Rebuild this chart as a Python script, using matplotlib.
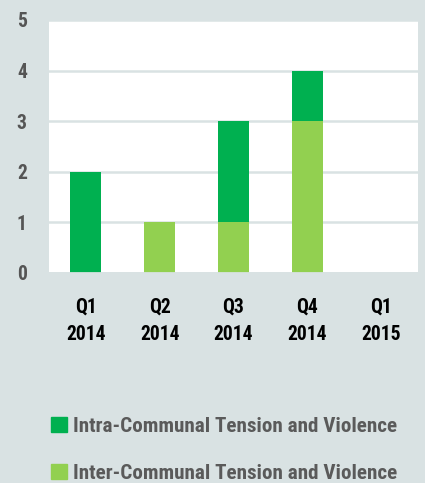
import numpy as np
import matplotlib
matplotlib.use("Agg")
import matplotlib.pyplot as plt
from matplotlib.patches import Patch
from matplotlib import font_manager
from matplotlib.textpath import TextPath

# Data
quarters = ["Q1\n2014", "Q2\n2014", "Q3\n2014", "Q4\n2014", "Q1\n2015"]
inter_communal = [0, 1, 1, 3, 0]
intra_communal = [2, 0, 2, 1, 0]
series_names = ["Intra-Communal Tension and Violence", "Inter-Communal Tension and Violence"]

# Colours
bg = "#d9e2e3"
dark_green = "#00b050"
light_green = "#92d050"

# Pick a condensed bold font, best matches first
def find_font():
    files = [f.fname for f in font_manager.fontManager.ttflist]
    prefs = [("opensans", "condensed"), ("roboto", "condensed"), ("liberationsansnarrow", ""),
             ("notosans", "condensed"), ("", "semicondensed"), ("", "condensed"), ("", "narrow")]
    for a, b in prefs:
        for fn in files:
            low = fn.lower().replace(" ", "").replace("-", "").replace("_", "")
            if a in low and b in low and "bold" in low and "italic" not in low \
                    and "extra" not in low and "semi" + "bold" not in low:
                return fn
    return None

narrow = find_font()
font_kw = {"fname": narrow} if narrow else {"family": "DejaVu Sans", "weight": "bold"}

def fp(size):
    return font_manager.FontProperties(size=size, **font_kw)

fig = plt.figure(figsize=(4.25, 4.83), dpi=100, facecolor=bg)

def pick_size(text, cap_px, max_w_px):
    # font size giving the wanted cap height, but no wider than max_w_px
    ext_h = TextPath((0, 0), "H", prop=fp(10)).get_extents().height * 100 / 72
    ext_w = TextPath((0, 0), text, prop=fp(10)).get_extents().width * 100 / 72
    return min(10 * cap_px / ext_h, 10 * max_w_px / ext_w)

tick_size = pick_size("2014", 14, 46)
ytick_size = pick_size("5", 14, 12)
legend_size = pick_size(series_names[0], 15, 330)

ax = fig.add_axes([49/425, 210/483, 369/425, 253/483])
ax.set_facecolor("white")

x = np.arange(len(quarters))
width = 0.42
ax.bar(x, inter_communal, width, color=light_green, zorder=3)
ax.bar(x, intra_communal, width, bottom=inter_communal, color=dark_green, zorder=3)

# Axes limits and grid
ax.set_xlim(-0.5, len(quarters) - 0.5)
ax.set_ylim(0, 5)
ax.set_yticks(range(0, 6))
ax.yaxis.grid(True, color=bg, linewidth=1.8, zorder=1)
ax.axhline(0, color=bg, linewidth=2, zorder=4)
for s in ax.spines.values():
    s.set_visible(False)
ax.tick_params(length=0)

ax.set_xticks(x)
ax.set_xticklabels(quarters, color="black", linespacing=1.55)
for lbl in ax.get_xticklabels():
    lbl.set_fontproperties(fp(tick_size))
ax.tick_params(axis="x", pad=18)
for lbl in ax.get_yticklabels():
    lbl.set_fontproperties(fp(ytick_size))
    lbl.set_color("#555555")
ax.tick_params(axis="y", pad=16)

# Legend
handles = [Patch(color=dark_green), Patch(color=light_green)]
leg = fig.legend(handles, series_names, loc="upper left",
                 bbox_to_anchor=(51/425, 1 - 417/483), frameon=False,
                 prop=fp(legend_size), borderpad=0, borderaxespad=0,
                 handlelength=0.75, handleheight=0.75, handletextpad=0.3,
                 labelspacing=1.3, labelcolor="#5a5a5a")

fig.savefig("out.png", dpi=100, facecolor=bg)
